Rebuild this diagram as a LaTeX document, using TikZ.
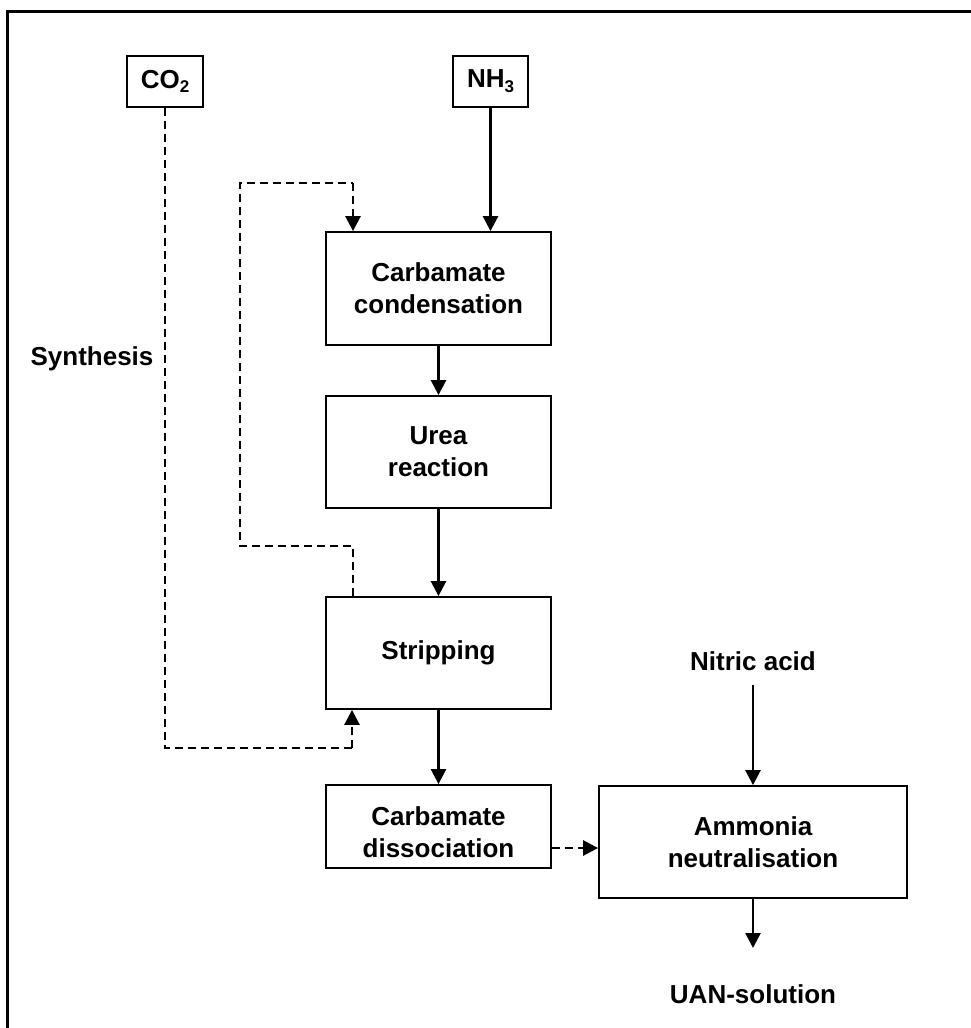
\documentclass[tikz,border=0pt]{standalone}
\usepackage{fontspec}
\setmainfont{Liberation Sans}
\usetikzlibrary{arrows.meta}
\newcommand\lowidx[1]{\raisebox{-0.35ex}{\fontsize{17}{17}\selectfont #1}}
\begin{document}
\begin{tikzpicture}[x=1pt,y=-1pt,
  lbl/.style={font=\bfseries\fontsize{26}{32}\selectfont, inner sep=0pt, align=center},
  unit/.style={draw, line width=1.8pt, align=center, inner sep=0pt,
    font=\bfseries\fontsize{26}{32}\selectfont},
  flow/.style={line width=2.6pt, -{Triangle[length=15pt,width=15pt]}},
  recyc/.style={flow, dash pattern=on 8pt off 5pt},
  plain/.style={line width=2.6pt, dash pattern=on 8pt off 5pt}]
\useasboundingbox (0,0) rectangle (971,1028);
\fill[white] (0,0) rectangle (971,1028);
% outer frame (only top and left edges fall inside the page)
\draw[line width=3pt] (7,1040) -- (7,11) -- (980,11);

% feed boxes
\node[unit, minimum width=76pt, minimum height=51pt] (co2) at (165,81.5) {CO\lowidx{2}};
\node[unit, minimum width=75pt, minimum height=51pt] (nh3) at (490.5,81.5) {NH\lowidx{3}};

% process units
\node[unit, minimum width=225pt, minimum height=113pt] (cond) at (438.5,288.5) {Carbamate\\condensation};
\node[unit, minimum width=225pt, minimum height=112pt] (urea) at (438.5,452) {Urea\\reaction};
\node[unit, minimum width=225pt, minimum height=112pt] (strip) at (438.5,653) {Stripping};
\node[unit, minimum width=225pt, minimum height=83pt] (diss) at (438.5,826.5) {};
\node[lbl] (disstext) at (438.5,832) {Carbamate\\dissociation};
\node[unit, minimum width=308pt, minimum height=112pt] (amm) at (753,842) {Ammonia\\neutralisation};

% free labels
\node[lbl, anchor=base] (syn) at (92,365) {Synthesis};
\node[lbl, anchor=base] (nitric) at (753,670) {Nitric acid};
\node[lbl, anchor=base] (uan) at (753,1003) {UAN-solution};
\coordinate (nitricend) at (753,685);
\coordinate (uanend) at (753,948);

% main flow
\draw[flow] (nh3.south) -- (cond.north -| nh3.south);
\draw[flow] (cond.south) -- (urea.north);
\draw[flow] (urea.south) -- (strip.north);
\draw[flow] (strip.south) -- (diss.north);
\draw[flow] (nitricend) -- (amm.north);
\draw[flow] (amm.south) -- (uanend);

% recycle and CO2 lines
\coordinate (sa) at (353,546);
\coordinate (sb) at (240,546);
\coordinate (sc) at (240,183);
\coordinate (sd) at (353,183);
\draw[plain] (strip.north -| sa) -- (sa) -- (sb) -- (sc) -- (sd);
\draw[recyc] (sd) -- (cond.north -| sd);
\coordinate (ca) at (165,748);
\coordinate (cb) at (352,748);
\draw[plain] (co2.south) -- (ca) -- (cb);
\draw[recyc] (cb) -- (strip.south -| cb);
\draw[recyc] (diss.east |- 0,848) -- (amm.west |- 0,848);
\end{tikzpicture}
\end{document}
